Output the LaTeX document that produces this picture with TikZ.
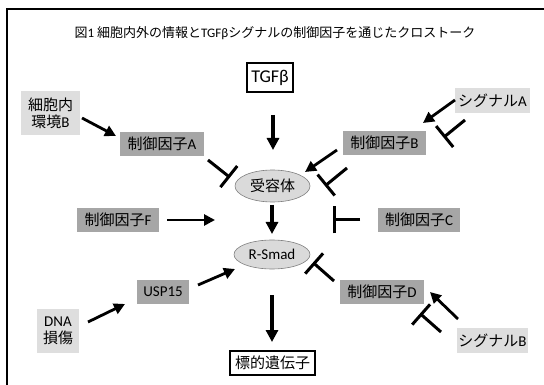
\documentclass[tikz,border=0pt]{standalone}
\usepackage{fontspec}
\setmainfont{Carlito}
\newfontfamily\cjk{Noto Sans CJK JP}
\usetikzlibrary{arrows.meta,shapes.geometric}
\newcommand{\J}[1]{{\cjk #1}}
\definecolor{darkbox}{HTML}{A6A6A6}
\definecolor{lightbox}{HTML}{DEDEDE}
\definecolor{ellfill}{HTML}{DADADA}
\tikzset{
  txt/.style={font=\fontsize{15}{17}\selectfont, align=center, inner sep=0pt},
  darkb/.style={txt, fill=darkbox, minimum height=24pt},
  lightb/.style={txt, fill=lightbox},
  framebox/.style={txt, draw, line width=1.6pt, minimum height=24pt},
  ell/.style={txt, ellipse, draw=gray, line width=0.6pt, fill=ellfill},
  act/.style={line width=2.8pt, -{Triangle[length=11pt,width=11pt]}},
  mainact/.style={line width=3.8pt, -{Triangle[length=12pt,width=12pt]}},
  inh/.style={line width=3pt, -{Bar[width=27pt]}},
}
\begin{document}
\begin{tikzpicture}[x=1pt,y=-1pt]
\useasboundingbox (0,0) rectangle (544,385);
\draw[line width=1.8pt] (7,390) -- (7,9) -- (550,9);
\node[font=\fontsize{13}{15}\selectfont, inner sep=0pt] (title) at (275,33)
  {\J{図}1 \J{細胞内外の情報と}TGFβ\J{シグナルの制御因子を通じたクロストーク}};
% nodes
\node[framebox, minimum width=46pt, minimum height=29pt, font=\fontsize{18}{20}\selectfont] (tgfb) at (270,77.5) {TGFβ};
\node[lightb, minimum width=59pt, minimum height=44pt] (envB) at (50.5,113) {\J{細胞内}\\\J{環境}B};
\node[darkb, minimum width=84pt] (cA) at (162,144) {\J{制御因子}A};
\node[darkb, minimum width=83pt] (cB) at (384.5,143) {\J{制御因子}B};
\node[lightb, minimum width=75pt, minimum height=25pt] (sigA) at (492.5,100.5) {\J{シグナル}A};
\node[ell, minimum width=75pt, minimum height=32pt] (rec) at (272.5,186) {\J{受容体}};
\node[darkb, minimum width=82pt] (cF) at (118,220) {\J{制御因子}F};
\node[darkb, minimum width=82pt] (cC) at (419,220) {\J{制御因子}C};
\node[ell, minimum width=76pt, minimum height=29pt] (rsmad) at (272,254.5) {R-Smad};
\node[darkb, minimum width=52pt] (usp) at (163,292) {USP15};
\node[lightb, minimum width=42pt, minimum height=44pt] (dna) at (58,331) {DNA\\\J{損傷}};
\node[darkb, minimum width=84pt] (cD) at (382,292) {\J{制御因子}D};
\node[lightb, minimum width=71pt, minimum height=25pt] (sigB) at (492.5,340.5) {\J{シグナル}B};
\node[framebox, minimum width=85pt] (target) at (272.5,363) {\J{標的遺伝子}};
% connector end points
\coordinate (t1) at (273,115); \coordinate (t2) at (273,150);
\coordinate (e1) at (82,118); \coordinate (e2) at (116,136);
\coordinate (a1) at (208,160); \coordinate (a2) at (230,177.5);
\coordinate (b1) at (337,150); \coordinate (b2) at (305,172);
\coordinate (b3) at (347,168); \coordinate (b4) at (325,186);
\coordinate (s1) at (455,100); \coordinate (s2) at (423,123);
\coordinate (s3) at (465,120); \coordinate (s4) at (443.5,137.5);
\coordinate (r1) at (272,205); \coordinate (r2) at (272,234);
\coordinate (f1) at (167,220); \coordinate (f2) at (215,220);
\coordinate (c1) at (360,220); \coordinate (c2) at (333,220);
\coordinate (u1) at (198,285); \coordinate (u2) at (235,269);
\coordinate (d1) at (88,322); \coordinate (d2) at (125,304);
\coordinate (m1) at (272,295); \coordinate (m2) at (272,342);
\coordinate (p1) at (334,281); \coordinate (p2) at (313,262.5);
\coordinate (q1) at (458,319); \coordinate (q2) at (430,292);
\coordinate (q3) at (441,332); \coordinate (q4) at (420,313.5);
% connectors
\draw[mainact] (t1) -- (t2);
\draw[act] (e1) -- (e2);
\draw[inh] (a1) -- (a2);
\draw[act] (b1) -- (b2);
\draw[inh] (b3) -- (b4);
\draw[act] (s1) -- (s2);
\draw[inh] (s3) -- (s4);
\draw[mainact] (r1) -- (r2);
\draw[act] (f1) -- (f2);
\draw[inh] (c1) -- (c2);
\draw[act] (u1) -- (u2);
\draw[act] (d1) -- (d2);
\draw[mainact] (m1) -- (m2);
\draw[inh] (p1) -- (p2);
\draw[act] (q1) -- (q2);
\draw[inh] (q3) -- (q4);
\end{tikzpicture}
\end{document}
